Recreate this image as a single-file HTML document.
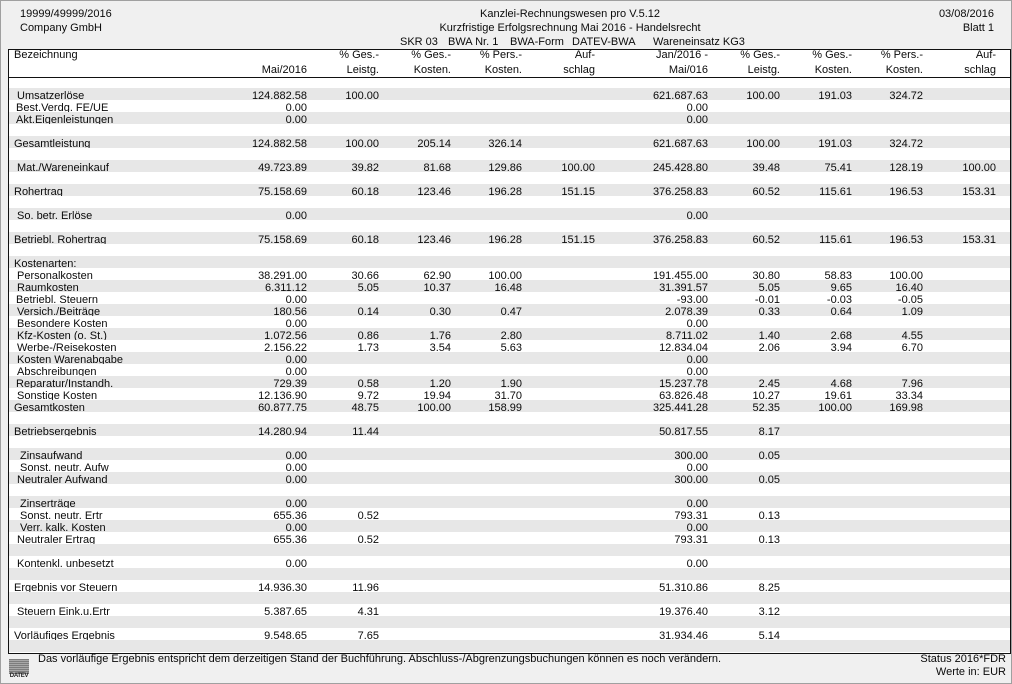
<!DOCTYPE html>
<html><head><meta charset="utf-8">
<style>
html,body{margin:0;padding:0;}
body{width:1012px;height:684px;position:relative;overflow:hidden;background:#f0f0f0;box-sizing:border-box;border:1px solid #a0a0a0;font-family:"Liberation Sans",Arial,sans-serif;font-size:11px;color:#0a0a0a;}
.t{position:absolute;line-height:12px;white-space:nowrap;}
#tbl{position:absolute;left:7px;top:48px;width:1001px;height:603px;border:1px solid #111;background:#fff;}
.r{position:absolute;left:8px;width:1001px;height:12px;box-sizing:border-box;overflow:hidden;}
.h{position:absolute;left:8px;width:1001px;height:12px;}
.g{background:#e7e7e7;}
.r span,.h span{position:absolute;top:2px;line-height:12px;white-space:nowrap;}
.l0{left:5px}.l1{left:8px}.l1b{left:7px}.l2{left:11px}
.a1,.a2,.a3,.a4,.a5,.a6,.a7,.a8,.a9,.a10{text-align:right;width:120px;}
.a1{right:703px}.a2{right:631px}.a3{right:559px}.a4{right:488px}.a5{right:415px}
.a6{right:302px}.a7{right:230px}.a8{right:158px}.a9{right:87px}.a10{right:14px}
#logo{position:absolute;left:8px;top:658px;width:20px;height:15px;background:repeating-linear-gradient(to bottom,#7d7d7d 0,#7d7d7d 1px,#a8a8a8 1px,#a8a8a8 2px);}
#logot{position:absolute;left:8px;top:672px;width:20px;font-size:6px;line-height:7px;font-weight:bold;text-align:center;color:#222;letter-spacing:-0.3px;}
</style></head>
<body>
<div class="t" style="left:19px;top:7px">19999/49999/2016</div>
<div class="t" style="left:19px;top:21px">Company GmbH</div>
<div class="t" style="left:369px;top:7px;width:400px;text-align:center">Kanzlei-Rechnungswesen pro V.5.12</div>
<div class="t" style="left:369px;top:21px;width:400px;text-align:center">Kurzfristige Erfolgsrechnung Mai 2016 - Handelsrecht</div>
<div class="t" style="left:399px;top:35px">SKR 03</div>
<div class="t" style="left:447px;top:35px">BWA Nr. 1</div>
<div class="t" style="left:509px;top:35px">BWA-Form</div>
<div class="t" style="left:571px;top:35px">DATEV-BWA</div>
<div class="t" style="left:652px;top:35px">Wareneinsatz KG3</div>
<div class="t" style="right:17px;top:7px">03/08/2016</div>
<div class="t" style="right:17px;top:21px">Blatt 1</div>

<div id="tbl"></div>
<div style="position:absolute;left:8px;top:76px;width:1001px;height:1px;background:#111"></div>

<div class="h" style="top:46px"><span class="l0">Bezeichnung</span><span class="a2">% Ges.-</span><span class="a3">% Ges.-</span><span class="a4">% Pers.-</span><span class="a5">Auf-</span><span class="a6">Jan/2016 -</span><span class="a7">% Ges.-</span><span class="a8">% Ges.-</span><span class="a9">% Pers.-</span><span class="a10">Auf-</span></div>
<div class="h" style="top:61px"><span class="a1">Mai/2016</span><span class="a2">Leistg.</span><span class="a3">Kosten.</span><span class="a4">Kosten.</span><span class="a5">schlag</span><span class="a6">Mai/016</span><span class="a7">Leistg.</span><span class="a8">Kosten.</span><span class="a9">Kosten.</span><span class="a10">schlag</span></div>

<div class="r g" style="top:87px"><span class="l1">Umsatzerlöse</span><span class="a1">124.882.58</span><span class="a2">100.00</span><span class="a6">621.687.63</span><span class="a7">100.00</span><span class="a8">191.03</span><span class="a9">324.72</span></div>
<div class="r" style="top:99px"><span class="l1b">Best.Verdg. FE/UE</span><span class="a1">0.00</span><span class="a6">0.00</span></div>
<div class="r g" style="top:111px"><span class="l1b">Akt.Eigenleistungen</span><span class="a1">0.00</span><span class="a6">0.00</span></div>
<div class="r" style="top:123px"></div>
<div class="r g" style="top:135px"><span class="l0">Gesamtleistung</span><span class="a1">124.882.58</span><span class="a2">100.00</span><span class="a3">205.14</span><span class="a4">326.14</span><span class="a6">621.687.63</span><span class="a7">100.00</span><span class="a8">191.03</span><span class="a9">324.72</span></div>
<div class="r" style="top:147px"></div>
<div class="r g" style="top:159px"><span class="l1">Mat./Wareneinkauf</span><span class="a1">49.723.89</span><span class="a2">39.82</span><span class="a3">81.68</span><span class="a4">129.86</span><span class="a5">100.00</span><span class="a6">245.428.80</span><span class="a7">39.48</span><span class="a8">75.41</span><span class="a9">128.19</span><span class="a10">100.00</span></div>
<div class="r" style="top:171px"></div>
<div class="r g" style="top:183px"><span class="l0">Rohertrag</span><span class="a1">75.158.69</span><span class="a2">60.18</span><span class="a3">123.46</span><span class="a4">196.28</span><span class="a5">151.15</span><span class="a6">376.258.83</span><span class="a7">60.52</span><span class="a8">115.61</span><span class="a9">196.53</span><span class="a10">153.31</span></div>
<div class="r" style="top:195px"></div>
<div class="r g" style="top:207px"><span class="l1">So. betr. Erlöse</span><span class="a1">0.00</span><span class="a6">0.00</span></div>
<div class="r" style="top:219px"></div>
<div class="r g" style="top:231px"><span class="l0">Betriebl. Rohertrag</span><span class="a1">75.158.69</span><span class="a2">60.18</span><span class="a3">123.46</span><span class="a4">196.28</span><span class="a5">151.15</span><span class="a6">376.258.83</span><span class="a7">60.52</span><span class="a8">115.61</span><span class="a9">196.53</span><span class="a10">153.31</span></div>
<div class="r" style="top:243px"></div>
<div class="r g" style="top:255px"><span class="l0">Kostenarten:</span></div>
<div class="r" style="top:267px"><span class="l1">Personalkosten</span><span class="a1">38.291.00</span><span class="a2">30.66</span><span class="a3">62.90</span><span class="a4">100.00</span><span class="a6">191.455.00</span><span class="a7">30.80</span><span class="a8">58.83</span><span class="a9">100.00</span></div>
<div class="r g" style="top:279px"><span class="l1">Raumkosten</span><span class="a1">6.311.12</span><span class="a2">5.05</span><span class="a3">10.37</span><span class="a4">16.48</span><span class="a6">31.391.57</span><span class="a7">5.05</span><span class="a8">9.65</span><span class="a9">16.40</span></div>
<div class="r" style="top:291px"><span class="l1b">Betriebl. Steuern</span><span class="a1">0.00</span><span class="a6">-93.00</span><span class="a7">-0.01</span><span class="a8">-0.03</span><span class="a9">-0.05</span></div>
<div class="r g" style="top:303px"><span class="l1">Versich./Beiträge</span><span class="a1">180.56</span><span class="a2">0.14</span><span class="a3">0.30</span><span class="a4">0.47</span><span class="a6">2.078.39</span><span class="a7">0.33</span><span class="a8">0.64</span><span class="a9">1.09</span></div>
<div class="r" style="top:315px"><span class="l1">Besondere Kosten</span><span class="a1">0.00</span><span class="a6">0.00</span></div>
<div class="r g" style="top:327px"><span class="l1">Kfz-Kosten (o. St.)</span><span class="a1">1.072.56</span><span class="a2">0.86</span><span class="a3">1.76</span><span class="a4">2.80</span><span class="a6">8.711.02</span><span class="a7">1.40</span><span class="a8">2.68</span><span class="a9">4.55</span></div>
<div class="r" style="top:339px"><span class="l1">Werbe-/Reisekosten</span><span class="a1">2.156.22</span><span class="a2">1.73</span><span class="a3">3.54</span><span class="a4">5.63</span><span class="a6">12.834.04</span><span class="a7">2.06</span><span class="a8">3.94</span><span class="a9">6.70</span></div>
<div class="r g" style="top:351px"><span class="l1">Kosten Warenabgabe</span><span class="a1">0.00</span><span class="a6">0.00</span></div>
<div class="r" style="top:363px"><span class="l1">Abschreibungen</span><span class="a1">0.00</span><span class="a6">0.00</span></div>
<div class="r g" style="top:375px"><span class="l1b">Reparatur/Instandh.</span><span class="a1">729.39</span><span class="a2">0.58</span><span class="a3">1.20</span><span class="a4">1.90</span><span class="a6">15.237.78</span><span class="a7">2.45</span><span class="a8">4.68</span><span class="a9">7.96</span></div>
<div class="r" style="top:387px"><span class="l1">Sonstige Kosten</span><span class="a1">12.136.90</span><span class="a2">9.72</span><span class="a3">19.94</span><span class="a4">31.70</span><span class="a6">63.826.48</span><span class="a7">10.27</span><span class="a8">19.61</span><span class="a9">33.34</span></div>
<div class="r g" style="top:399px"><span class="l0">Gesamtkosten</span><span class="a1">60.877.75</span><span class="a2">48.75</span><span class="a3">100.00</span><span class="a4">158.99</span><span class="a6">325.441.28</span><span class="a7">52.35</span><span class="a8">100.00</span><span class="a9">169.98</span></div>
<div class="r" style="top:411px"></div>
<div class="r g" style="top:423px"><span class="l0">Betriebsergebnis</span><span class="a1">14.280.94</span><span class="a2">11.44</span><span class="a6">50.817.55</span><span class="a7">8.17</span></div>
<div class="r" style="top:435px"></div>
<div class="r g" style="top:447px"><span class="l2">Zinsaufwand</span><span class="a1">0.00</span><span class="a6">300.00</span><span class="a7">0.05</span></div>
<div class="r" style="top:459px"><span class="l2">Sonst. neutr. Aufw</span><span class="a1">0.00</span><span class="a6">0.00</span></div>
<div class="r g" style="top:471px"><span class="l1">Neutraler Aufwand</span><span class="a1">0.00</span><span class="a6">300.00</span><span class="a7">0.05</span></div>
<div class="r" style="top:483px"></div>
<div class="r g" style="top:495px"><span class="l2">Zinserträge</span><span class="a1">0.00</span><span class="a6">0.00</span></div>
<div class="r" style="top:507px"><span class="l2">Sonst. neutr. Ertr</span><span class="a1">655.36</span><span class="a2">0.52</span><span class="a6">793.31</span><span class="a7">0.13</span></div>
<div class="r g" style="top:519px"><span class="l2">Verr. kalk. Kosten</span><span class="a1">0.00</span><span class="a6">0.00</span></div>
<div class="r" style="top:531px"><span class="l1">Neutraler Ertrag</span><span class="a1">655.36</span><span class="a2">0.52</span><span class="a6">793.31</span><span class="a7">0.13</span></div>
<div class="r g" style="top:543px"></div>
<div class="r" style="top:555px"><span class="l1">Kontenkl. unbesetzt</span><span class="a1">0.00</span><span class="a6">0.00</span></div>
<div class="r g" style="top:567px"></div>
<div class="r" style="top:579px"><span class="l0">Ergebnis vor Steuern</span><span class="a1">14.936.30</span><span class="a2">11.96</span><span class="a6">51.310.86</span><span class="a7">8.25</span></div>
<div class="r g" style="top:591px"></div>
<div class="r" style="top:603px"><span class="l1">Steuern Eink.u.Ertr</span><span class="a1">5.387.65</span><span class="a2">4.31</span><span class="a6">19.376.40</span><span class="a7">3.12</span></div>
<div class="r g" style="top:615px"></div>
<div class="r" style="top:627px"><span class="l0">Vorläufiges Ergebnis</span><span class="a1">9.548.65</span><span class="a2">7.65</span><span class="a6">31.934.46</span><span class="a7">5.14</span></div>
<div class="r g" style="top:639px"></div>

<div id="logo"></div>
<div id="logot">DATEV</div>
<div class="t" style="left:37px;top:652px">Das vorläufige Ergebnis entspricht dem derzeitigen Stand der Buchführung. Abschluss-/Abgrenzungsbuchungen können es noch verändern.</div>
<div class="t" style="right:5px;top:652px">Status 2016*FDR</div>
<div class="t" style="right:5px;top:665px">Werte in: EUR</div>
</body></html>
